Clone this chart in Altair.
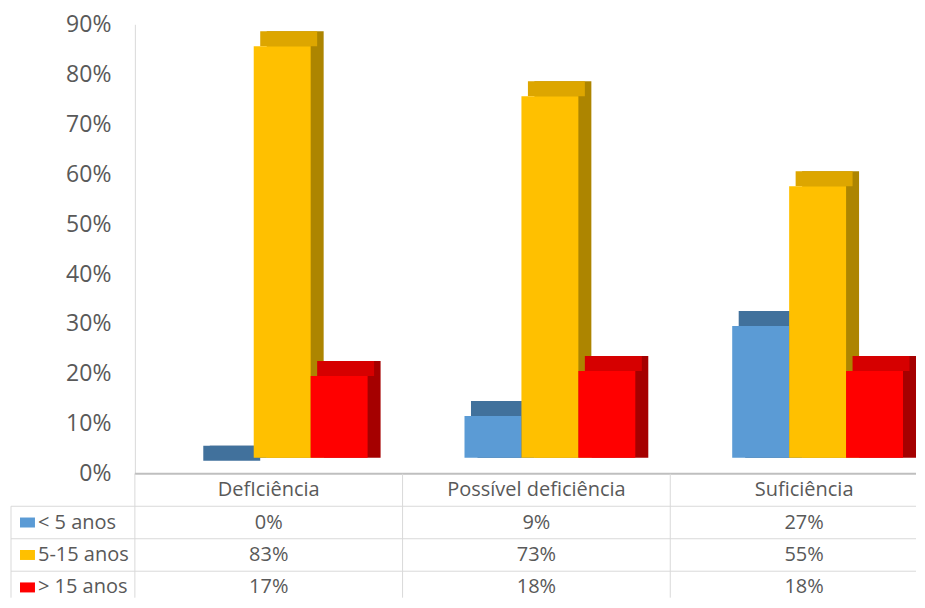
import altair as alt
import pandas as pd

# ---- data ----
categories = ["DefIciência", "Possível deficiência", "Suficiência"]
series = ["< 5 anos", "5-15 anos", "> 15 anos"]
v_lt5 = [0, 9, 27]
v_5_15 = [83, 73, 55]
v_gt15 = [17, 18, 18]
y_ticks = [0, 10, 20, 30, 40, 50, 60, 70, 80, 90]

# ---- styles ----
front_colors = ["#5B9BD5", "#FFC000", "#FF0000"]
top_colors = ["#41719C", "#DDA600", "#D60000"]
side_colors = ["#33597E", "#AD8500", "#A50000"]
FONT = "Open Sans"
TXT = "#595959"
GRID = "#D9D9D9"

W, H = 782, 450          # plot area of the bar chart
TH = 124                 # table height
X_RANGE = [0, 804]       # column step of 268 px, last column runs past the view
ROW_RANGE = [0, 130]
BAR_W = 57
FIRST_OFF = -43.5        # pixel offset of first bar centre from column centre
DX, DY = 13, 15
TOP_OFF, BASE_OFF = -13, -16

values = [v_lt5, v_5_15, v_gt15]
rows = []
for s, vals in zip(series, values):
    for c, v in zip(categories, vals):
        rows.append({"cat": c, "serie": s, "value": v / 100, "label": f"{v}%"})
df = pd.DataFrame(rows)

x_scale = alt.Scale(domain=categories, range=X_RANGE, paddingInner=0, paddingOuter=0)
y_scale = alt.Scale(domain=[0, 0.9], nice=False)

x_bar = alt.X("cat:N", sort=categories, scale=x_scale, axis=None)
y_bar = alt.Y("value:Q", scale=y_scale,
              axis=alt.Axis(values=[t / 100 for t in y_ticks], format=".0%", title=None,
                            ticks=False, grid=False, labelPadding=24,
                            labelFont=FONT, labelFontSize=23, labelColor=TXT,
                            domainColor=GRID, domainWidth=1))

backs, tops, fronts = [], [], []
for i, s in enumerate(series):
    base = alt.Chart(df).transform_filter(alt.datum.serie == s)
    off = FIRST_OFF + i * BAR_W
    backs.append(base.mark_bar(width=BAR_W, xOffset=off + DX, yOffset=TOP_OFF - DY,
                               y2Offset=BASE_OFF, color=side_colors[i]).encode(
        x=x_bar, y=y_bar, y2=alt.datum(0)))
    tops.append(base.mark_bar(width=BAR_W, xOffset=off + DX / 2, yOffset=TOP_OFF - DY,
                              y2Offset=TOP_OFF, color=top_colors[i]).encode(
        x=x_bar, y=y_bar, y2=alt.Y2("value:Q")))
    fronts.append(base.transform_filter(alt.datum.value > 0).mark_bar(
        width=BAR_W, xOffset=off, yOffset=TOP_OFF, y2Offset=BASE_OFF,
        color=front_colors[i]).encode(x=x_bar, y=y_bar, y2=alt.datum(0)))

baseline = alt.Chart(pd.DataFrame({"cat": [categories[0]]})).mark_rule(
    color="#BFBFBF", strokeWidth=2).encode(
    x=alt.value(0), x2=alt.value(W), y=alt.value(H))

bars = alt.layer(*backs, *tops, *fronts, baseline).properties(width=W, height=H)

# ---- data table ----
tbl_rows = ["header"] + series
trows = [{"cat": c, "row": "header", "text": c} for c in categories]
trows += [{"cat": r["cat"], "row": r["serie"], "text": r["label"]} for r in rows]
tdf = pd.DataFrame(trows)
sdf = pd.DataFrame({"row": series})
cdf = pd.DataFrame({"cat": categories})

row_scale = alt.Scale(domain=tbl_rows, range=ROW_RANGE, paddingInner=0, paddingOuter=0)
x_t = alt.X("cat:N", sort=categories, scale=x_scale, axis=None)
y_t = alt.Y("row:N", sort=tbl_rows, scale=row_scale, axis=None)
y_t0 = alt.Y("row:N", sort=tbl_rows, scale=row_scale, axis=None, bandPosition=0)

cells = alt.Chart(tdf).mark_text(font=FONT, fontSize=20, color=TXT).encode(
    x=x_t, y=y_t, text="text:N")
row_labels = alt.Chart(sdf).mark_text(font=FONT, fontSize=20, color=TXT, align="left").encode(
    x=alt.value(-97), y=y_t, text="row:N")
swatches = alt.Chart(sdf).mark_bar(height=10).encode(
    x=alt.value(-115), x2=alt.value(-100), y=y_t,
    color=alt.Color("row:N", scale=alt.Scale(domain=series, range=front_colors), legend=None))
h_lines = alt.Chart(sdf).mark_rule(color=GRID, strokeWidth=1).encode(
    y=y_t0, x=alt.value(-124), x2=alt.value(W))
v_lines = alt.Chart(cdf).mark_rule(color=GRID, strokeWidth=1).encode(
    x=alt.X("cat:N", sort=categories, scale=x_scale, axis=None, bandPosition=0),
    y=alt.value(0), y2=alt.value(TH))
left_border = alt.Chart(pd.DataFrame({"row": [series[0]]})).mark_rule(color=GRID, strokeWidth=1).encode(
    x=alt.value(-124), y=y_t0, y2=alt.value(TH))

table = alt.layer(h_lines, v_lines, left_border, swatches, row_labels, cells).properties(
    width=W, height=TH)

chart = alt.vconcat(bars, table, spacing=0, bounds="flush").properties(
    padding={"left": 2, "top": 5, "right": 0, "bottom": 0},
    background="white",
).configure_view(stroke=None)

chart.save("out.html", embed_options={"renderer": "svg", "actions": False})
